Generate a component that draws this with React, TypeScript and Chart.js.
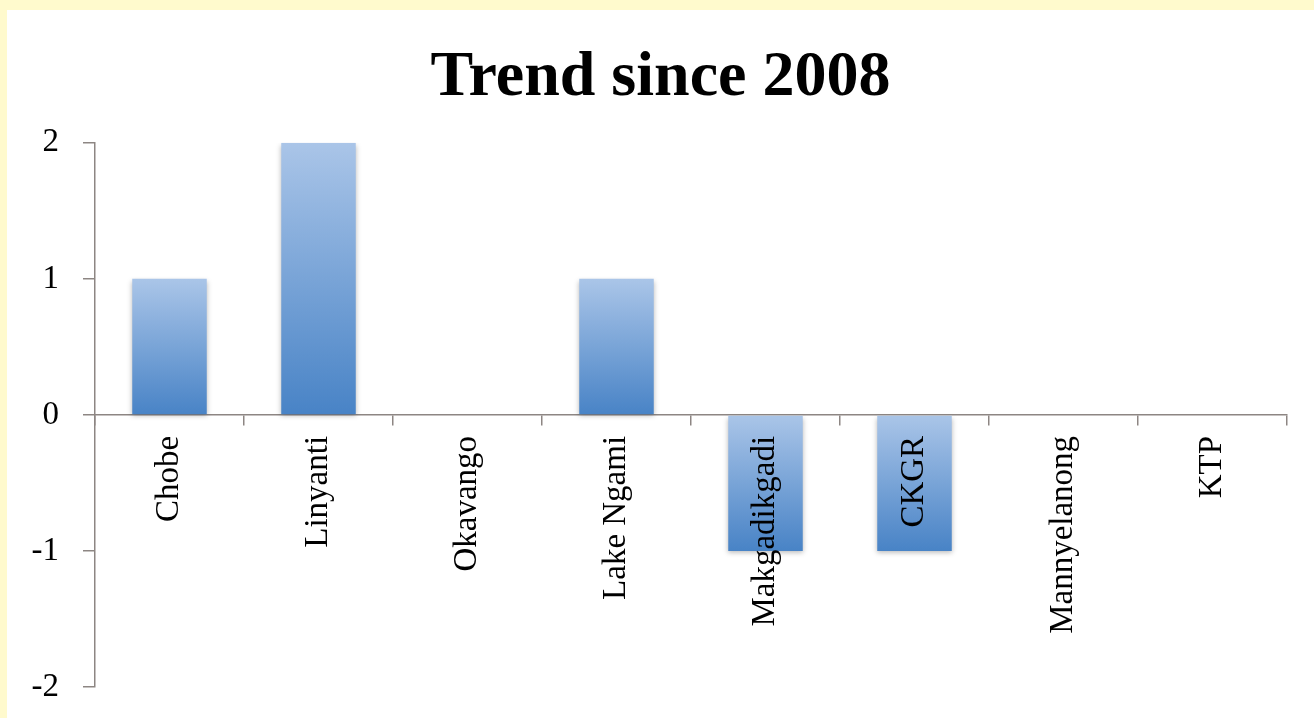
import React, { useEffect, useRef } from "react";
import { Chart, registerables } from "chart.js";

Chart.register(...registerables);

const categories = ["Chobe", "Linyanti", "Okavango", "Lake Ngami", "Makgadikgadi", "CKGR", "Mannyelanong", "KTP"];
const trendValues = [1, 2, 0, 1, -1, -1, 0, 0];
const yMin = -2;
const yMax = 2;
const yStep = 1;
const chartTitle = "Trend since 2008";

const AXIS_COLOR = "#8d8683";
const BAR_TOP = "#aac5e8";
const BAR_BOTTOM = "#4883c6";

const barShadow = {
  id: "barShadow",
  beforeDatasetsDraw(chart: any) {
    const c = chart.ctx;
    c.save();
    c.shadowColor = "rgba(0,0,0,0.28)";
    c.shadowBlur = 5;
    c.shadowOffsetX = 0;
    c.shadowOffsetY = 2;
  },
  afterDatasetsDraw(chart: any) {
    chart.ctx.restore();
  },
};

export default function App() {
  const canvasRef = useRef<HTMLCanvasElement | null>(null);

  useEffect(() => {
    const canvas = canvasRef.current;
    if (!canvas) return;
    const chart = new Chart(canvas, {
      type: "bar",
      data: {
        labels: categories,
        datasets: [
          {
            label: "Trend",
            data: trendValues,
            barPercentage: 0.5,
            categoryPercentage: 1,
            borderWidth: 0,
            backgroundColor: (ctx: any) => {
              const ch = ctx.chart;
              const y = ch.scales && ch.scales.y;
              if (!y || !ch.chartArea || typeof ctx.raw !== "number") return BAR_BOTTOM;
              const v = ctx.raw as number;
              const top = y.getPixelForValue(Math.max(v, 0));
              const bottom = y.getPixelForValue(Math.min(v, 0));
              if (!isFinite(top) || !isFinite(bottom) || top === bottom) return BAR_BOTTOM;
              const g = ch.ctx.createLinearGradient(0, top, 0, bottom);
              g.addColorStop(0, BAR_TOP);
              g.addColorStop(1, BAR_BOTTOM);
              return g;
            },
          },
        ],
      },
      options: {
        responsive: true,
        maintainAspectRatio: false,
        animation: false,
        layout: { padding: { left: 0, right: 0, top: 0, bottom: 31 } },
        plugins: {
          legend: { display: false },
          tooltip: { enabled: false },
          title: {
            display: true,
            text: chartTitle,
            color: "#000000",
            font: { family: "'Liberation Serif', serif", size: 64, weight: "bold", lineHeight: 1.2 },
            padding: { top: 30, bottom: 26 },
          },
        },
        scales: {
          x: {
            type: "category",
            position: { y: 0 } as any,
            offset: true,
            grid: {
              display: true,
              offset: true,
              drawOnChartArea: false,
              drawTicks: true,
              tickLength: 10,
              color: AXIS_COLOR,
              lineWidth: 1.5,
            },
            border: { display: true, color: AXIS_COLOR, width: 1.5 },
            ticks: {
              z: 1,
              autoSkip: false,
              minRotation: 90,
              maxRotation: 90,
              padding: 11,
              color: "#000000",
              font: { family: "'Liberation Serif', serif", size: 33 },
            },
          },
          y: {
            min: yMin,
            max: yMax,
            afterFit: (s: any) => {
              s.width = 88;
            },
            grid: {
              display: true,
              drawOnChartArea: false,
              drawTicks: true,
              tickLength: 12,
              color: AXIS_COLOR,
              lineWidth: 1.5,
            },
            border: { display: true, color: AXIS_COLOR, width: 1.5 },
            ticks: {
              stepSize: yStep,
              padding: 24,
              color: "#000000",
              font: { family: "'Liberation Serif', serif", size: 33, lineHeight: 0.1 },
            },
          },
          yRightSpacer: {
            axis: "y",
            position: "right",
            display: true,
            min: yMin,
            max: yMax,
            afterFit: (s: any) => {
              s.width = 27;
            },
            grid: { display: false, drawTicks: false },
            border: { display: false },
            ticks: { display: false },
          } as any,
        },
      },
      plugins: [barShadow],
    });
    return () => chart.destroy();
  }, []);

  return (
    <div
      style={{
        position: "fixed",
        left: 0,
        top: 0,
        width: 1314,
        height: 718,
        background: "#fffacd",
        overflow: "hidden",
      }}
    >
      <div
        style={{
          position: "absolute",
          left: 7,
          top: 10,
          width: 1307,
          height: 708,
          background: "#ffffff",
        }}
      >
        <canvas ref={canvasRef} />
      </div>
    </div>
  );
}
